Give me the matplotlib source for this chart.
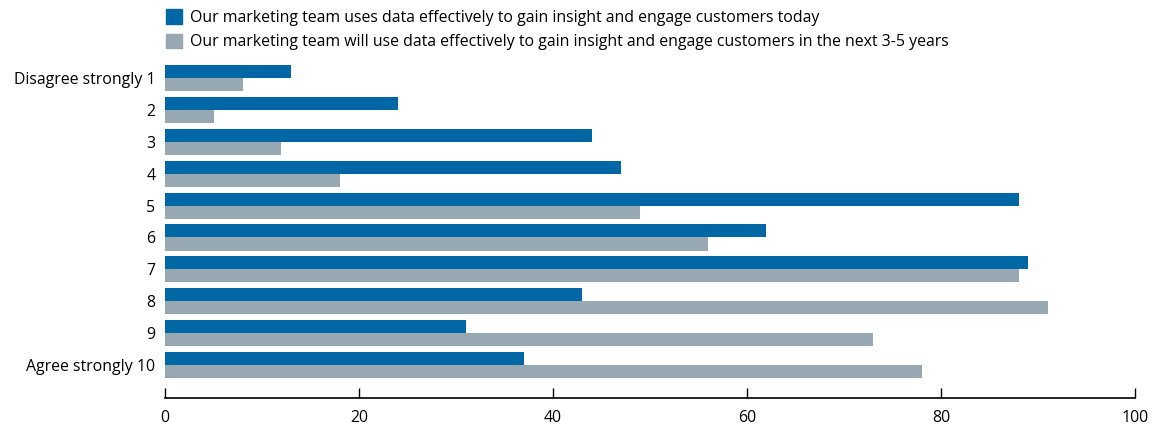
import numpy as np
import matplotlib.pyplot as plt
from matplotlib.patches import Patch

plt.rcParams['font.family'] = ['Open Sans', 'DejaVu Sans']

# === Data ===
categories = ["Disagree strongly 1", "2", "3", "4", "5", "6", "7", "8", "9", "Agree strongly 10"]
today = [13, 24, 44, 47, 88, 62, 89, 43, 31, 37]
future = [8, 5, 12, 18, 49, 56, 88, 91, 73, 78]
series_labels = [
    "Our marketing team uses data effectively to gain insight and engage customers today",
    "Our marketing team will use data effectively to gain insight and engage customers in the next 3-5 years",
]
xticks = [0, 20, 40, 60, 80, 100]

dark = "#0067a5"
grey = "#97a8b2"
fs = 11.4

fig = plt.figure(figsize=(11.63, 4.26), dpi=100)
ax = fig.add_axes([165 / 1163, 1 - 398 / 426, 970 / 1163, 336 / 426])

y = np.arange(len(categories))
h = 0.41
ax.barh(y - h / 2, today, height=h, color=dark)
ax.barh(y + h / 2, future, height=h, color=grey)

ax.set_xlim(0, 100)
ax.set_ylim(len(categories) - 1 + 1.03, -0.5)
ax.set_yticks(y)
ax.set_yticklabels(categories, fontsize=fs)
ax.set_xticks(xticks)
ax.set_xticklabels([str(t) for t in xticks], fontsize=fs)

for s in ["top", "right", "left"]:
    ax.spines[s].set_visible(False)
ax.spines["bottom"].set_linewidth(1.2)
ax.tick_params(axis="y", length=0, pad=7)
ax.tick_params(axis="x", direction="in", length=7, width=1, pad=9)

handles = [Patch(color=dark), Patch(color=grey)]
fig.legend(handles, series_labels, loc="upper left",
           bbox_to_anchor=(160 / 1163, 1 - 3 / 426), frameon=False,
           fontsize=fs, handlelength=1.0, handleheight=1.0,
           handletextpad=0.5, labelspacing=0.5, borderaxespad=0)

fig.savefig("out.png", dpi=100)
